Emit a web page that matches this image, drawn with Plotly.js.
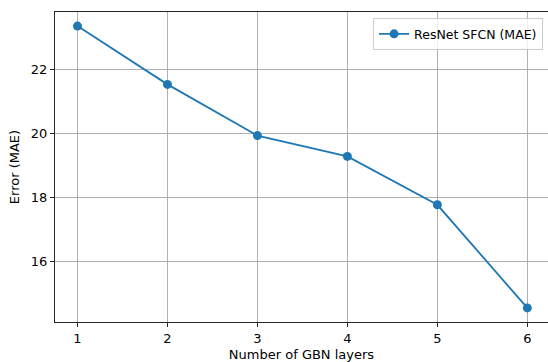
<!DOCTYPE html>
<html>
<head>
<meta charset="utf-8">
<script src="https://cdn.plot.ly/plotly-3.0.1.min.js"></script>
<style>html,body{margin:0;padding:0;background:#fff;}#chart{width:548px;height:362px;}</style>
</head>
<body>
<div id="chart"></div>
<script>
const layers = [1, 2, 3, 4, 5, 6];
const maeValues = [23.36, 21.54, 19.94, 19.29, 17.78, 14.56];
const seriesName = "ResNet SFCN (MAE)";
const xTickVals = [1, 2, 3, 4, 5, 6];
const yTickVals = [16, 18, 20, 22];

const trace = {
  x: layers,
  y: maeValues,
  name: seriesName,
  type: "scatter",
  mode: "lines+markers",
  line: {color: "#1f77b4", width: 1.8},
  marker: {color: "#1f77b4", size: 9}
};

const font = {family: "DejaVu Sans, sans-serif", size: 13, color: "#000"};

const layout = {
  width: 548,
  height: 362,
  margin: {l: 55, r: 0, t: 12, b: 40},
  paper_bgcolor: "#fff",
  plot_bgcolor: "#fff",
  font: font,
  showlegend: true,
  legend: {
    x: 0.99, y: 0.98, xanchor: "right", yanchor: "top",
    bordercolor: "#cccccc", borderwidth: 1, bgcolor: "rgba(255,255,255,0.8)",
    font: {family: "DejaVu Sans, sans-serif", size: 12.5, color: "#000"}
  },
  xaxis: {
    range: [0.75, 6.23],
    tickvals: xTickVals,
    ticks: "outside", ticklen: 4, tickcolor: "#262626", tickwidth: 1,
    showgrid: true, gridcolor: "#b0b0b0", gridwidth: 1,
    zeroline: false,
    showline: true, linecolor: "#262626", linewidth: 1, mirror: true,
    title: {text: "Number of GBN layers", font: font, standoff: 6}
  },
  yaxis: {
    range: [14.12, 23.80],
    tickvals: yTickVals,
    ticks: "outside", ticklen: 4, tickcolor: "#262626", tickwidth: 1,
    showgrid: true, gridcolor: "#b0b0b0", gridwidth: 1,
    zeroline: false,
    showline: true, linecolor: "#262626", linewidth: 1, mirror: true,
    title: {text: "Error (MAE)", font: font, standoff: 8}
  }
};

Plotly.newPlot("chart", [trace], layout, {displayModeBar: false, staticPlot: true});
</script>
</body>
</html>
